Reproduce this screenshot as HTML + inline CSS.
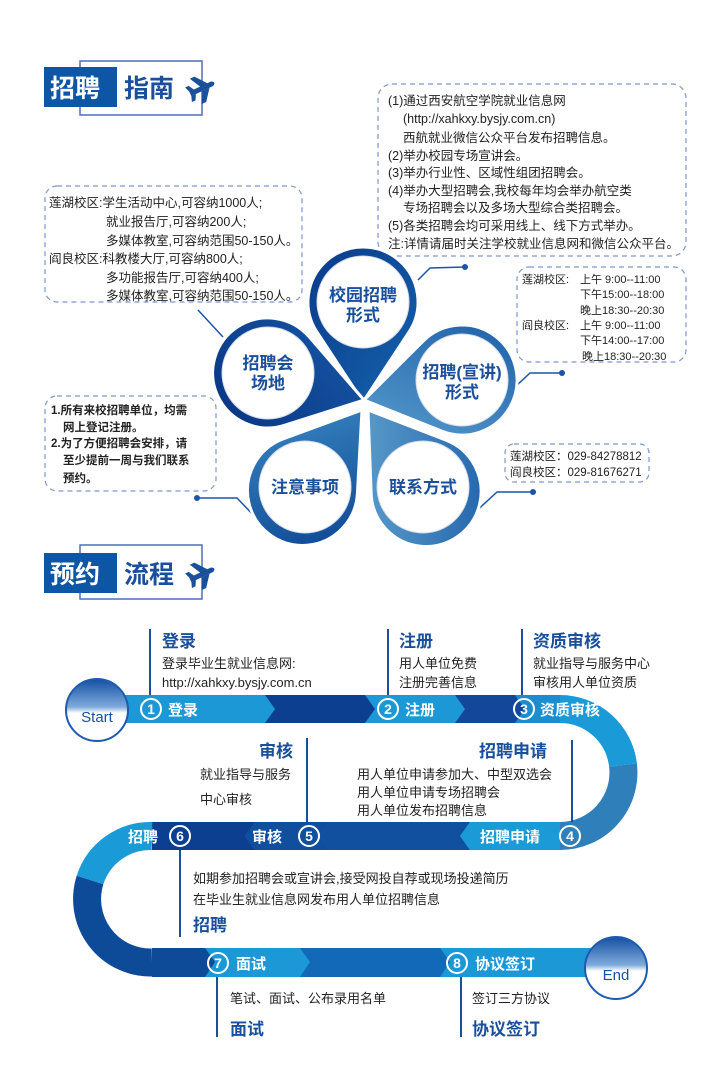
<!DOCTYPE html>
<html><head><meta charset="utf-8"><style>
html,body{margin:0;padding:0;background:#fff;}
svg{display:block;}
text{font-family:"Liberation Sans","Noto Sans CJK SC",sans-serif;}
.b{font-weight:bold;}
</style></head><body>
<svg width="724" height="1091" viewBox="0 0 724 1091" xmlns="http://www.w3.org/2000/svg">
<defs>
<linearGradient id="gTop" x1="0" y1="0" x2="1" y2="1"><stop offset="0" stop-color="#0b3a8a"/><stop offset="1" stop-color="#1463ad"/></linearGradient>
<linearGradient id="gLeft" x1="0" y1="0" x2="1" y2="1"><stop offset="0" stop-color="#0a3482"/><stop offset="1" stop-color="#1658a6"/></linearGradient>
<linearGradient id="gRight" x1="0" y1="0" x2="1" y2="1"><stop offset="0" stop-color="#1e5fa8"/><stop offset="1" stop-color="#5a9fcf"/></linearGradient>
<linearGradient id="gBL" x1="0" y1="0" x2="1" y2="1"><stop offset="0" stop-color="#0c4592"/><stop offset="1" stop-color="#3d8bc4"/></linearGradient>
<linearGradient id="gBR" x1="0" y1="0" x2="1" y2="1"><stop offset="0" stop-color="#1d60a8"/><stop offset="1" stop-color="#6aaad4"/></linearGradient>
<linearGradient id="gBall" x1="0" y1="0" x2="0" y2="1"><stop offset="0" stop-color="#1550a3"/><stop offset="0.45" stop-color="#7eaadb"/><stop offset="0.55" stop-color="#fff"/><stop offset="1" stop-color="#fff"/></linearGradient>
<path id="petal" d="M0,0 L45.9,-69.75 A55 55 0 1 0 -45.9,-69.75 Z"/>
<g id="plane"><path d="M-14,-2.5 L10,-2.5 Q15,0 10,2.5 L-14,2.5 Z M-2,-2.5 L-8,-14 L-3,-14 L6,-2.5 Z M-2,2.5 L-8,14 L-3,14 L6,2.5 Z M-14,-2.5 L-16,-8 L-12,-8 L-9,-2.5 Z M-14,2.5 L-16,8 L-12,8 L-9,2.5 Z"/></g>
</defs>

<!-- Title 1 -->
<rect x="80" y="61" width="122" height="54" fill="none" stroke="#4a6fbd" stroke-width="1.5"/>
<rect x="44" y="67" width="73" height="40" fill="#0d56a6"/>
<text x="50" y="97" font-size="25" class="b" fill="#fff">招聘</text>
<text x="124" y="97" font-size="25" class="b" fill="#1a4f9c">指南</text>
<use href="#plane" transform="translate(203,88) rotate(-25)" fill="#1a4f9c"/>

<!-- Dashed boxes -->
<g fill="none" stroke="#7f97cc" stroke-width="1.2" stroke-dasharray="5,4">
<rect x="378" y="84" width="308" height="172" rx="14"/>
<rect x="45" y="186" width="257" height="116" rx="12"/>
<rect x="517" y="267" width="169" height="95" rx="12"/>
<rect x="45" y="396" width="171" height="95" rx="12"/>
<rect x="505" y="444" width="144" height="38" rx="9"/>
</g>

<g font-size="12.5" fill="#222">
<text x="388" y="105">(1)通过西安航空学院就业信息网</text>
<text x="403" y="123">(http://xahkxy.bysjy.com.cn)</text>
<text x="403" y="142">西航就业微信公众平台发布招聘信息。</text>
<text x="388" y="160">(2)举办校园专场宣讲会。</text>
<text x="388" y="177">(3)举办行业性、区域性组团招聘会。</text>
<text x="388" y="195">(4)举办大型招聘会,我校每年均会举办航空类</text>
<text x="403" y="212">专场招聘会以及多场大型综合类招聘会。</text>
<text x="388" y="230">(5)各类招聘会均可采用线上、线下方式举办。</text>
<text x="388" y="248">注:详情请届时关注学校就业信息网和微信公众平台。</text>
</g>
<g font-size="12.5" fill="#222">
<text x="49" y="207">莲湖校区:学生活动中心,可容纳1000人;</text>
<text x="106" y="226">就业报告厅,可容纳200人;</text>
<text x="106" y="245">多媒体教室,可容纳范围50-150人。</text>
<text x="49" y="263">阎良校区:科教楼大厅,可容纳800人;</text>
<text x="106" y="282">多功能报告厅,可容纳400人;</text>
<text x="106" y="300">多媒体教室,可容纳范围50-150人。</text>
</g>
<g font-size="11" fill="#222">
<text x="522" y="283">莲湖校区:</text><text x="580" y="283">上午  9:00--11:00</text>
<text x="580" y="298">下午15:00--18:00</text>
<text x="580" y="314">晚上18:30--20:30</text>
<text x="522" y="329">阎良校区:</text><text x="580" y="329">上午  9:00--11:00</text>
<text x="580" y="344">下午14:00--17:00</text>
<text x="582" y="360">晚上18:30--20:30</text>
</g>
<g font-size="11.5" fill="#222" class="b">
<text x="51" y="414">1.所有来校招聘单位，均需</text>
<text x="63" y="431">网上登记注册。</text>
<text x="51" y="447">2.为了方便招聘会安排，请</text>
<text x="63" y="464">至少提前一周与我们联系</text>
<text x="63" y="482">预约。</text>
</g>
<g font-size="11.5" fill="#222">
<text x="510" y="460">莲湖校区：029-84278812</text>
<text x="510" y="476">阎良校区：029-81676271</text>
</g>

<!-- connectors -->
<g fill="none" stroke="#1a55a8" stroke-width="1.5">
<polyline points="418,280 430,268 465,267"/>
<polyline points="223,337 198,310"/>
<polyline points="515,387 530,373 562,373"/>
<polyline points="472,515 497,492 533,492"/>
<polyline points="197,498 237,498 259,521"/>
</g>
<g fill="#1a55a8">
<circle cx="465" cy="267" r="3"/><circle cx="562" cy="373" r="3"/><circle cx="533" cy="492" r="3"/><circle cx="197" cy="498" r="3"/>
</g>

<!-- Flower -->
<g stroke="#fff" stroke-width="3">
<use href="#petal" transform="translate(363,402) rotate(0)" fill="url(#gTop)"/>
<use href="#petal" transform="translate(364,400) rotate(78.5)" fill="url(#gRight)"/>
<use href="#petal" transform="translate(368,410) rotate(144.5)" fill="url(#gBR)"/>
<use href="#petal" transform="translate(362,410) rotate(-143.5)" fill="url(#gBL)"/>
<use href="#petal" transform="translate(364,400) rotate(-74.3)" fill="url(#gLeft)"/>
</g>
<g fill="#fff" stroke="#d6dbe8" stroke-width="1">
<circle cx="363" cy="302" r="46"/>
<circle cx="462" cy="380" r="46"/>
<circle cx="423" cy="487" r="46"/>
<circle cx="305" cy="487" r="46"/>
<circle cx="268" cy="373" r="46"/>
</g>
<g font-size="17" class="b" fill="#1a4f9c" text-anchor="middle">
<text x="363" y="301">校园招聘</text><text x="363" y="321">形式</text>
<text x="268" y="369">招聘会</text><text x="268" y="389">场地</text>
<text x="462" y="378">招聘(宣讲)</text><text x="462" y="398">形式</text>
<text x="305" y="493">注意事项</text>
<text x="423" y="493">联系方式</text>
</g>

<!-- Title 2 -->
<rect x="80" y="545" width="122" height="54" fill="none" stroke="#4a6fbd" stroke-width="1.5"/>
<rect x="44" y="553" width="73" height="40" fill="#0d56a6"/>
<text x="50" y="583" font-size="25" class="b" fill="#fff">预约</text>
<text x="124" y="583" font-size="25" class="b" fill="#1a4f9c">流程</text>
<use href="#plane" transform="translate(203,574) rotate(-25)" fill="#1a4f9c"/>

<!-- Flow band -->
<rect x="100" y="695" width="460" height="28" fill="#1b98d5"/>
<polygon points="265,695 365,695 375,709 365,723 265,723 275,709" fill="#0d3f90"/>
<polygon points="455,695 515,695 525,709 515,723 455,723 465,709" fill="#12479a"/>
<polygon points="515,695 560,695 560,723 515,723 525,709" fill="#1a8ccf"/>
<path d="M560,709 A63.5 63.5 0 0 1 623,765" fill="none" stroke="#1a9ad6" stroke-width="28"/>
<path d="M623,765 A63.5 63.5 0 0 1 560,836" fill="none" stroke="#2f7fba" stroke-width="28"/>
<rect x="152" y="822" width="408" height="28" fill="#1687cd"/>
<polygon points="152,822 255,822 245,836 255,850 152,850" fill="#0d3f90"/>
<polygon points="255,822 330,822 320,836 330,850 255,850 245,836" fill="#0f4f9e"/>
<polygon points="330,822 470,822 460,836 470,850 330,850 320,836" fill="#11509f"/>
<polygon points="470,822 560,822 560,850 470,850 460,836" fill="#1a9ad6"/>
<path d="M152,836 A63.5 63.5 0 0 0 90,880" fill="none" stroke="#1a9ad6" stroke-width="28"/>
<path d="M90,880 A63.5 63.5 0 0 0 152,962.5" fill="none" stroke="#0d4a98" stroke-width="28"/>
<rect x="152" y="948" width="460" height="29" fill="#1b98d5"/>
<polygon points="152,948 205,948 215,962 205,977 152,977" fill="#0d4a98"/>
<polygon points="300,948 440,948 450,962 440,977 300,977 310,962" fill="#1269b8"/>

<!-- Start / End -->
<circle cx="97" cy="710" r="31" fill="url(#gBall)" stroke="#1e5bb0" stroke-width="2"/>
<text x="97" y="722" font-size="15" fill="#1a4f9c" text-anchor="middle">Start</text>
<circle cx="616" cy="968" r="31" fill="url(#gBall)" stroke="#1e5bb0" stroke-width="2"/>
<text x="616" y="980" font-size="15" fill="#1a4f9c" text-anchor="middle">End</text>

<!-- step labels -->
<g fill="none" stroke="#fff" stroke-width="2">
<circle cx="151" cy="709" r="10"/><circle cx="388" cy="709" r="10"/><circle cx="524" cy="709" r="10"/>
<circle cx="180" cy="836" r="10"/><circle cx="309" cy="836" r="10"/><circle cx="570" cy="836" r="10"/>
<circle cx="218" cy="963" r="10"/><circle cx="457" cy="963" r="10"/>
</g>
<g font-size="14" class="b" fill="#fff" text-anchor="middle">
<text x="151" y="714">1</text><text x="388" y="714">2</text><text x="524" y="714">3</text>
<text x="180" y="841">6</text><text x="309" y="841">5</text><text x="570" y="841">4</text>
<text x="218" y="968">7</text><text x="457" y="968">8</text>
</g>
<g font-size="15" class="b" fill="#fff">
<text x="168" y="715">登录</text>
<text x="405" y="715">注册</text>
<text x="540" y="715">资质审核</text>
<text x="128" y="842">招聘</text>
<text x="252" y="842">审核</text>
<text x="480" y="842">招聘申请</text>
<text x="236" y="969">面试</text>
<text x="475" y="969">协议签订</text>
</g>

<!-- vertical lines -->
<g stroke="#1a4f9c" stroke-width="2">
<line x1="150" y1="629" x2="150" y2="695"/>
<line x1="388" y1="629" x2="388" y2="695"/>
<line x1="522" y1="629" x2="522" y2="695"/>
<line x1="307" y1="738" x2="307" y2="822"/>
<line x1="572" y1="740" x2="572" y2="822"/>
<line x1="180" y1="850" x2="180" y2="937"/>
<line x1="217" y1="977" x2="217" y2="1037"/>
<line x1="461" y1="977" x2="461" y2="1037"/>
</g>

<!-- flow texts -->
<g font-size="17" class="b" fill="#1a4f9c">
<text x="162" y="647">登录</text>
<text x="399" y="647">注册</text>
<text x="533" y="647">资质审核</text>
<text x="293" y="757" text-anchor="end">审核</text>
<text x="547" y="757" text-anchor="end">招聘申请</text>
<text x="193" y="931">招聘</text>
<text x="230" y="1035">面试</text>
<text x="472" y="1035">协议签订</text>
</g>
<g font-size="13" fill="#222">
<text x="162" y="668">登录毕业生就业信息网:</text>
<text x="162" y="687">http://xahkxy.bysjy.com.cn</text>
<text x="399" y="668">用人单位免费</text>
<text x="399" y="687">注册完善信息</text>
<text x="533" y="668">就业指导与服务中心</text>
<text x="533" y="687">审核用人单位资质</text>
<text x="200" y="779">就业指导与服务</text>
<text x="200" y="804">中心审核</text>
<text x="357" y="779">用人单位申请参加大、中型双选会</text>
<text x="357" y="797">用人单位申请专场招聘会</text>
<text x="357" y="815">用人单位发布招聘信息</text>
<text x="193" y="883">如期参加招聘会或宣讲会,接受网投自荐或现场投递简历</text>
<text x="193" y="904">在毕业生就业信息网发布用人单位招聘信息</text>
<text x="230" y="1003">笔试、面试、公布录用名单</text>
<text x="472" y="1003">签订三方协议</text>
</g>
</svg>
</body></html>
